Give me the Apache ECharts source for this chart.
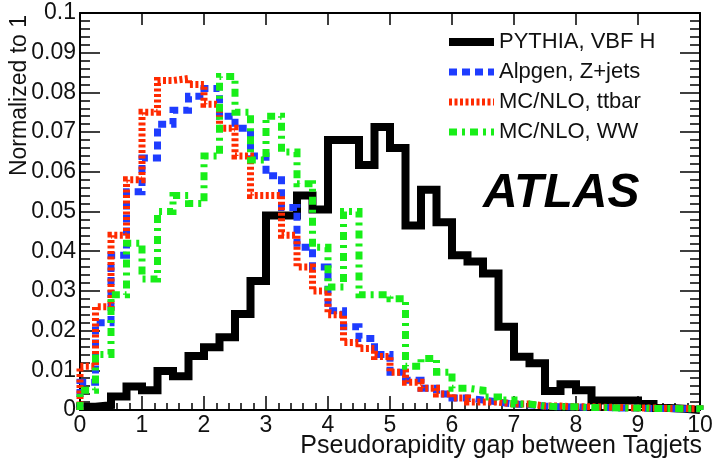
<!DOCTYPE html>
<html><head><meta charset="utf-8">
<script src="https://cdn.jsdelivr.net/npm/echarts@6/dist/echarts.min.js"></script>
<style>html,body{margin:0;padding:0;background:#fff}#c{width:713px;height:461px}</style>
</head><body><div id="c"></div>
<script>
// ---- data (bin width 0.25, range 0..10) ----
const binWidth = 0.25;
const xMin = 0, xMax = 10;
const yMin = 0, yMax = 0.1;
const seriesNames = ['PYTHIA, VBF H', 'Alpgen, Z+jets', 'MC/NLO, ttbar', 'MC/NLO, WW'];
const pythiaVBF = [0.0008, 0.0012, 0.0034, 0.0059, 0.005, 0.0098, 0.0085, 0.0136, 0.0158, 0.0183,
  0.0242, 0.0325, 0.049, 0.049, 0.054, 0.0505, 0.068, 0.068, 0.0617, 0.0713,
  0.066, 0.0465, 0.0555, 0.0473, 0.039, 0.0374, 0.0344, 0.021, 0.0134, 0.0118,
  0.0048, 0.0065, 0.005, 0.0024, 0.0024, 0.0024, 0.0015, 0.0005, 0.0003, 0];
const alpgenZjets = [0.007, 0.022, 0.039, 0.055, 0.0635, 0.072, 0.0755, 0.079, 0.081, 0.074,
  0.071, 0.064, 0.059, 0.051, 0.041, 0.036, 0.025, 0.021, 0.018, 0.014,
  0.0095, 0.0075, 0.0055, 0.004, 0.003, 0.0025, 0.002, 0.0015, 0.0013, 0.001,
  0.0008, 0.0008, 0.0006, 0.0006, 0.0005, 0.0005, 0.0004, 0.0004, 0.0003, 0.0003];
const mcnloTtbar = [0.011, 0.026, 0.044, 0.058, 0.075, 0.083, 0.0835, 0.082, 0.077, 0.071,
  0.064, 0.054, 0.054, 0.044, 0.036, 0.030, 0.024, 0.017, 0.0155, 0.0135,
  0.0095, 0.007, 0.0055, 0.004, 0.003, 0.002, 0.002, 0.0015, 0.0015, 0.001,
  0.001, 0.0008, 0.0008, 0.0007, 0.0006, 0.0005, 0.0005, 0.0004, 0.0004, 0.0003];
const mcnloWW = [0.005, 0.014, 0.029, 0.042, 0.033, 0.050, 0.054, 0.052, 0.064, 0.084,
  0.075, 0.063, 0.074, 0.065, 0.057, 0.041, 0.031, 0.050, 0.029, 0.029,
  0.028, 0.011, 0.013, 0.0095, 0.0055, 0.005, 0.0033, 0.0025, 0.0015, 0.001,
  0.0008, 0.0008, 0.0006, 0.0006, 0.0005, 0.0005, 0.0004, 0.0004, 0.0003, 0.0003];

function histSteps(vals) {
  const pts = [[xMin, 0]];
  vals.forEach((v, i) => pts.push([xMin + i * binWidth, v]));
  pts.push([xMin + vals.length * binWidth, 0]);
  return pts;
}

const FONT = '"Liberation Sans", Arial, Helvetica, sans-serif';
const chart = echarts.init(document.getElementById('c'), null, {renderer: 'canvas'});

const styles = [
  {color: '#000000', width: 8, type: 'solid'},
  {color: '#1e3cff', width: 7, type: [8, 5]},
  {color: '#ff2a00', width: 7, type: [3, 2.5]},
  {color: '#18ee18', width: 7, type: [8, 5, 3, 5]}
];
const allData = [pythiaVBF, alpgenZjets, mcnloTtbar, mcnloWW];

const series = allData.map((vals, k) => ({
  type: 'line',
  name: seriesNames[k],
  data: histSteps(vals),
  step: 'end',
  symbol: 'none',
  showSymbol: false,
  clip: true,
  z: 2 + k,
  animation: false,
  itemStyle: {color: styles[k].color},
  lineStyle: {color: styles[k].color, width: styles[k].width, type: styles[k].type, cap: 'butt', join: 'miter'}
}));

const legendData = seriesNames.map((n, k) => ({
  name: n,
  itemStyle: {opacity: 0},
  lineStyle: {color: styles[k].color, width: styles[k].width, type: styles[k].type, cap: 'butt', opacity: 1}
}));

const axisLine = {show: true, onZero: false, lineStyle: {color: '#000', width: 2}};
const tickStyle = {color: '#000', width: 1.5};

chart.setOption({
  animation: false,
  backgroundColor: '#fff',
  grid: {left: 80, right: 13, top: 13, bottom: 51, containLabel: false, outerBoundsMode: 'none'},
  legend: {
    data: legendData,
    orient: 'vertical',
    left: 445, top: 31, padding: 0,
    itemWidth: 45, itemHeight: 10, itemGap: 8,
    textStyle: {fontFamily: FONT, fontSize: 22, color: '#111'},
    selectedMode: false
  },
  xAxis: [
    {type: 'value', min: xMin, max: xMax, interval: 1, position: 'bottom',
     axisLine: axisLine,
     axisTick: {inside: true, length: 14, lineStyle: tickStyle},
     minorTick: {show: true, splitNumber: 5, length: 7, lineStyle: tickStyle},
     axisLabel: {fontFamily: FONT, fontSize: 23, color: '#111', margin: 4},
     splitLine: {show: false}, minorSplitLine: {show: false}},
    {type: 'value', min: xMin, max: xMax, interval: 1, position: 'top',
     axisLine: axisLine,
     axisTick: {inside: true, length: 12, lineStyle: tickStyle},
     axisLabel: {show: false},
     splitLine: {show: false}}
  ],
  yAxis: [
    {type: 'value', min: yMin, max: yMax, interval: 0.01, position: 'left',
     axisLine: axisLine,
     axisTick: {inside: true, length: 20, lineStyle: tickStyle},
     minorTick: {show: true, splitNumber: 5, length: 10, lineStyle: tickStyle},
     axisLabel: {fontFamily: FONT, fontSize: 23, color: '#111', margin: 4,
       formatter: v => v === 0 ? '0' : String(Math.round(v * 100) / 100)},
     splitLine: {show: false}, minorSplitLine: {show: false}},
    {type: 'value', min: yMin, max: yMax, interval: 0.01, position: 'right',
     axisLine: axisLine,
     axisTick: {inside: true, length: 20, lineStyle: tickStyle},
     minorTick: {show: true, splitNumber: 5, length: 10, lineStyle: tickStyle},
     axisLabel: {show: false},
     splitLine: {show: false}}
  ],
  graphic: [
    {type: 'text', x: 483, y: 194, z: 50,
     style: {text: 'ATLAS', font: 'italic bold 48px ' + FONT, fill: '#000', textAlign: 'left', textVerticalAlign: 'middle'}},
    {type: 'text', x: 20, y: 15, rotation: Math.PI / 2, z: 50,
     style: {text: 'Normalized to 1', font: '23px ' + FONT, fill: '#111', textAlign: 'right', textVerticalAlign: 'middle'}},
    {type: 'text', x: 702, y: 446, z: 50,
     style: {text: 'Pseudorapidity gap between Tagjets', font: '25px ' + FONT, fill: '#111', textAlign: 'right', textVerticalAlign: 'middle'}}
  ],
  series: series
});
</script>
</body></html>
